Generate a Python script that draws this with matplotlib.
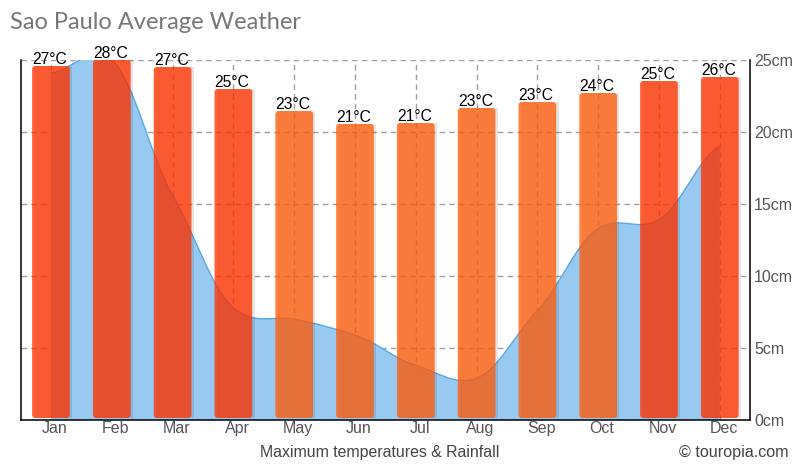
import numpy as np
from matplotlib import pyplot as plt
from matplotlib.patches import FancyBboxPatch, PathPatch
from matplotlib.path import Path
from matplotlib.transforms import ScaledTranslation

# Исходные данные
months = ['Jan', 'Feb', 'Mar', 'Apr', 'May', 'Jun', 'Jul', 'Aug', 'Sep', 'Oct', 'Nov', 'Dec']
temp = [27.4, 28.0, 27.3, 25.1, 22.9, 21.6, 21.7, 23.2, 23.8, 24.7, 25.9, 26.3]  # высота столбцов, °C
temp_labels = [27, 28, 27, 25, 23, 21, 21, 23, 23, 24, 25, 26]  # подписи над столбцами, °C
rain = [24.1, 25.0, 15.6, 7.8, 7.0, 5.9, 3.8, 2.9, 7.6, 13.3, 13.9, 19.0]  # осадки, см
x = np.arange(12)
width = 0.62  # ширина столбца
t_bottom = -7.8  # низ столбцов

plt.rcParams['font.family'] = ['Liberation Sans', 'DejaVu Sans']

fig = plt.figure(figsize=(8.1, 4.7), dpi=100)
fig.text(10 / 810, 1 - 29 / 470, 'Sao Paulo Average Weather', family='Lato', weight='normal',
         fontsize=17, color='#777777')

# График осадков
plt.axes([21 / 810, 1 - 420 / 470, 729 / 810, 360 / 470])
plt.xlim(-0.493, 11.497)
plt.ylim(0, 25)
plt.grid(True, color='#a0a0a0', linestyle=(0, (4, 3)), linewidth=1)
plt.gca().set_axisbelow(True)
plt.gca().spines['top'].set_visible(False)
for side in ['left', 'right', 'bottom']:
    plt.gca().spines[side].set_linewidth(1.1)
rain_ax = plt.gca()

# Сглаженная кривая по значениям осадков
verts = [(x[0], rain[0])]
codes = [Path.MOVETO]
for i in range(11):
    d0 = (rain[i + 1] - rain[max(i - 1, 0)]) * 0.15
    d1 = (rain[min(i + 2, 11)] - rain[i]) * 0.15
    verts += [(x[i] + 0.36, rain[i] + d0), (x[i + 1] - 0.36, rain[i + 1] - d1), (x[i + 1], rain[i + 1])]
    codes += [Path.CURVE4, Path.CURVE4, Path.CURVE4]
line = Path(verts, codes)
area = Path(verts + [(x[11], 0), (x[0], 0), (x[0], rain[0])], codes + [Path.LINETO, Path.LINETO, Path.LINETO])
plt.gca().add_patch(PathPatch(area, facecolor='#98c9f0', edgecolor='none', zorder=2))
plt.gca().add_patch(PathPatch(line, facecolor='none', edgecolor='#5aa9e0', linewidth=1, zorder=3))

# График температур
plt.twinx()
plt.ylim(-8, 28)
plt.yticks([])
plt.gca().patch.set_visible(False)
for side in ['top', 'left', 'right', 'bottom']:
    plt.gca().spines[side].set_visible(False)
aspect = 60.8 / 10  # пикселей на единицу x / пикселей на единицу y
for i in range(12):
    color = (1, 0.2, 0) if temp_labels[i] >= 25 else (1, 0.37, 0.05)
    plt.bar(x[i] + 0.04, temp[i] - t_bottom, width, bottom=t_bottom, color='black', alpha=0.1, zorder=2)
    plt.gca().add_patch(FancyBboxPatch((x[i] - width / 2, t_bottom), width, temp[i] - t_bottom,
                                       boxstyle='round,pad=0,rounding_size=0.05',
                                       mutation_aspect=aspect,
                                       facecolor=color, edgecolor='none', alpha=0.78, zorder=3))
    plt.text(x[i] - 0.02, temp[i] - 0.1, f'{temp_labels[i]}°C', ha='center', va='bottom', fontsize=11.3,
             color='black', zorder=4, clip_on=False)

# Подписи осей
rain_ax.set_xticks(x, months, fontsize=11.5, color='#555555')
rain_ax.set_yticks([0, 5, 10, 15, 20, 25], ['0cm', '5cm', '10cm', '15cm', '20cm', '25cm'], fontsize=11.5, color='#555555')
rain_ax.yaxis.tick_right()
rain_ax.tick_params(axis='x', length=0, pad=1)
rain_ax.tick_params(axis='y', length=0, pad=3, right=False, labelright=True, left=False, labelleft=False)
for label in rain_ax.get_xticklabels():
    label.set_transform(label.get_transform() + ScaledTranslation(0.04, 0, fig.dpi_scale_trans))

fig.text(380 / 810, 1 - 457 / 470, 'Maximum temperatures & Rainfall', ha='center', fontsize=11.4, color='#444444')
fig.text(789 / 810, 1 - 457 / 470, '© touropia.com', ha='right', fontsize=11.6, color='#444444')

# Вывод графиков
plt.savefig('out.png', dpi=100)
